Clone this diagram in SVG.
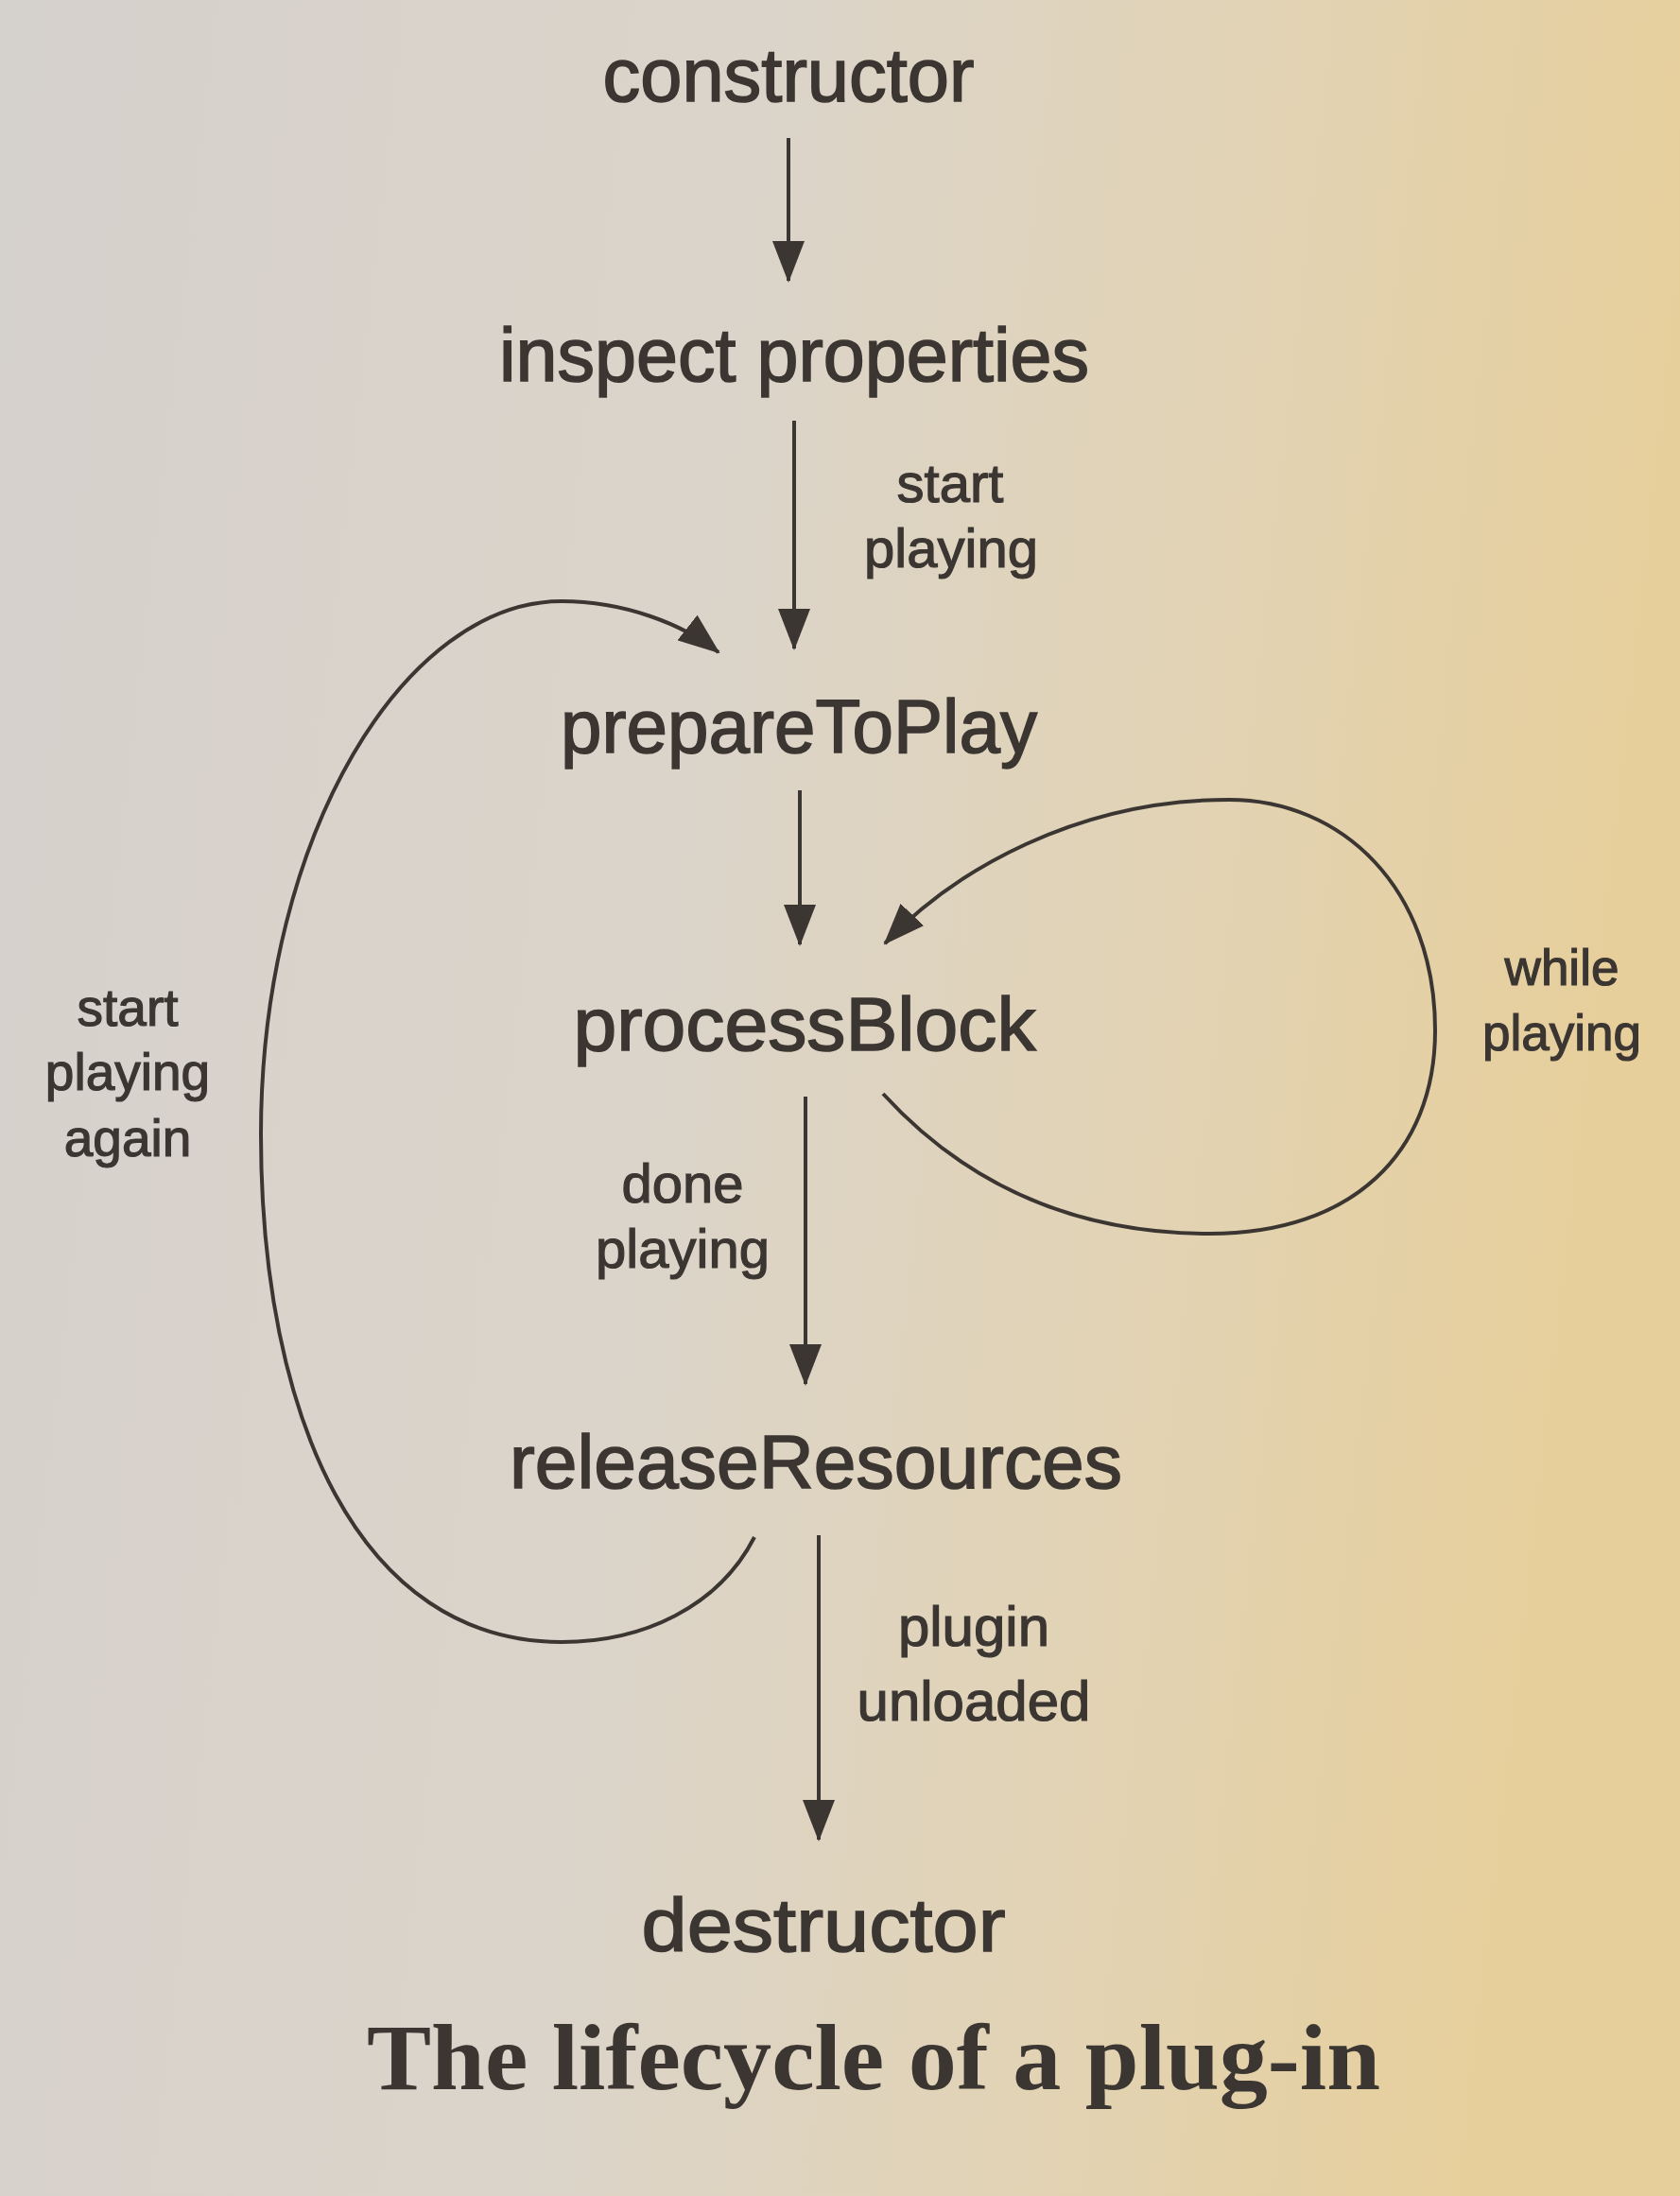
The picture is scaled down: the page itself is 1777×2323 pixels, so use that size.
<svg xmlns="http://www.w3.org/2000/svg" width="1777" height="2323" viewBox="0 0 1777 2323">
  <defs>
    <linearGradient id="paper" x1="0" y1="0" x2="1" y2="0.15">
      <stop offset="0" stop-color="#d5d1cc"/>
      <stop offset="0.45" stop-color="#dbd4ca"/>
      <stop offset="0.75" stop-color="#e2d3b4"/>
      <stop offset="1" stop-color="#e7cf9c"/>
    </linearGradient>
    <marker id="arrow" viewBox="0 0 44 34" refX="42" refY="17" markerWidth="44" markerHeight="34" markerUnits="userSpaceOnUse" orient="auto">
      <path d="M0,0 L44,17 L0,34 Z" fill="#3b3632"/>
    </marker>
    <style>
      .node { font-family: "Liberation Sans", Arial, sans-serif; font-size: 80px; fill: #3b3632; stroke: #3b3632; stroke-width: 1.6; text-anchor: middle; }
      .lbl { font-family: "Liberation Sans", Arial, sans-serif; fill: #3b3632; stroke: #3b3632; stroke-width: 1.2; text-anchor: middle; }
      .edge { fill: none; stroke: #3b3632; stroke-width: 4; marker-end: url(#arrow); }
      .title { font-family: "Liberation Serif", "Times New Roman", serif; font-weight: bold; font-size: 100px; fill: #3b3632; text-anchor: middle; }
    </style>
  </defs>
  <rect width="1777" height="2323" fill="url(#paper)"/>

  <g id="connectors">
    <path class="edge" d="M834,146 L834,297"/>
    <path class="edge" d="M840,445 L840,686"/>
    <path class="edge" d="M846,836 L846,999"/>
    <path class="edge" d="M852,1160 L852,1464"/>
    <path class="edge" d="M866,1624 L866,1946"/>
    <path id="loop-again" class="edge" d="M798,1626 C760,1700 680,1737 594,1737 C380,1737 276,1500 276,1200 C276,880 430,636 594,636 C660,636 722,660 760,690"/>
    <path id="loop-while" class="edge" d="M934,1157 C1010,1240 1120,1305 1280,1305 C1430,1305 1518,1220 1518,1090 C1518,940 1420,846 1300,846 C1140,846 1010,920 936,998"/>
    <g id="edge-labels">
      <text class="lbl" font-size="58" x="1005" y="531">start</text>
      <text class="lbl" font-size="58" x="1006" y="600">playing</text>
      <text class="lbl" font-size="58" x="722" y="1272">done</text>
      <text class="lbl" font-size="58" x="722" y="1341">playing</text>
      <text class="lbl" font-size="60" x="1030" y="1741">plugin</text>
      <text class="lbl" font-size="60" x="1030" y="1820">unloaded</text>
      <text class="lbl" font-size="55" x="135" y="1085">start</text>
      <text class="lbl" font-size="55" x="135" y="1153">playing</text>
      <text class="lbl" font-size="55" x="135" y="1223">again</text>
      <text class="lbl" font-size="53" x="1652" y="1042">while</text>
      <text class="lbl" font-size="53" x="1652" y="1111">playing</text>
    </g>
  </g>

  <g id="node-constructor"><text class="node" x="834" y="107" textLength="393" lengthAdjust="spacingAndGlyphs">constructor</text></g>
  <g id="node-inspect"><text class="node" x="840" y="403" textLength="624" lengthAdjust="spacingAndGlyphs">inspect properties</text></g>
  <g id="node-prepare"><text class="node" x="845" y="796" textLength="504" lengthAdjust="spacingAndGlyphs">prepareToPlay</text></g>
  <g id="node-process"><text class="node" x="851" y="1111" textLength="489" lengthAdjust="spacingAndGlyphs">processBlock</text></g>
  <g id="node-release"><text class="node" x="863" y="1574" textLength="648" lengthAdjust="spacingAndGlyphs">releaseResources</text></g>
  <g id="node-destructor"><text class="node" x="871" y="2064" textLength="385" lengthAdjust="spacingAndGlyphs">destructor</text></g>

  <g id="caption"><text class="title" x="924" y="2210" textLength="1072" lengthAdjust="spacingAndGlyphs">The lifecycle of a plug-in</text></g>
</svg>
